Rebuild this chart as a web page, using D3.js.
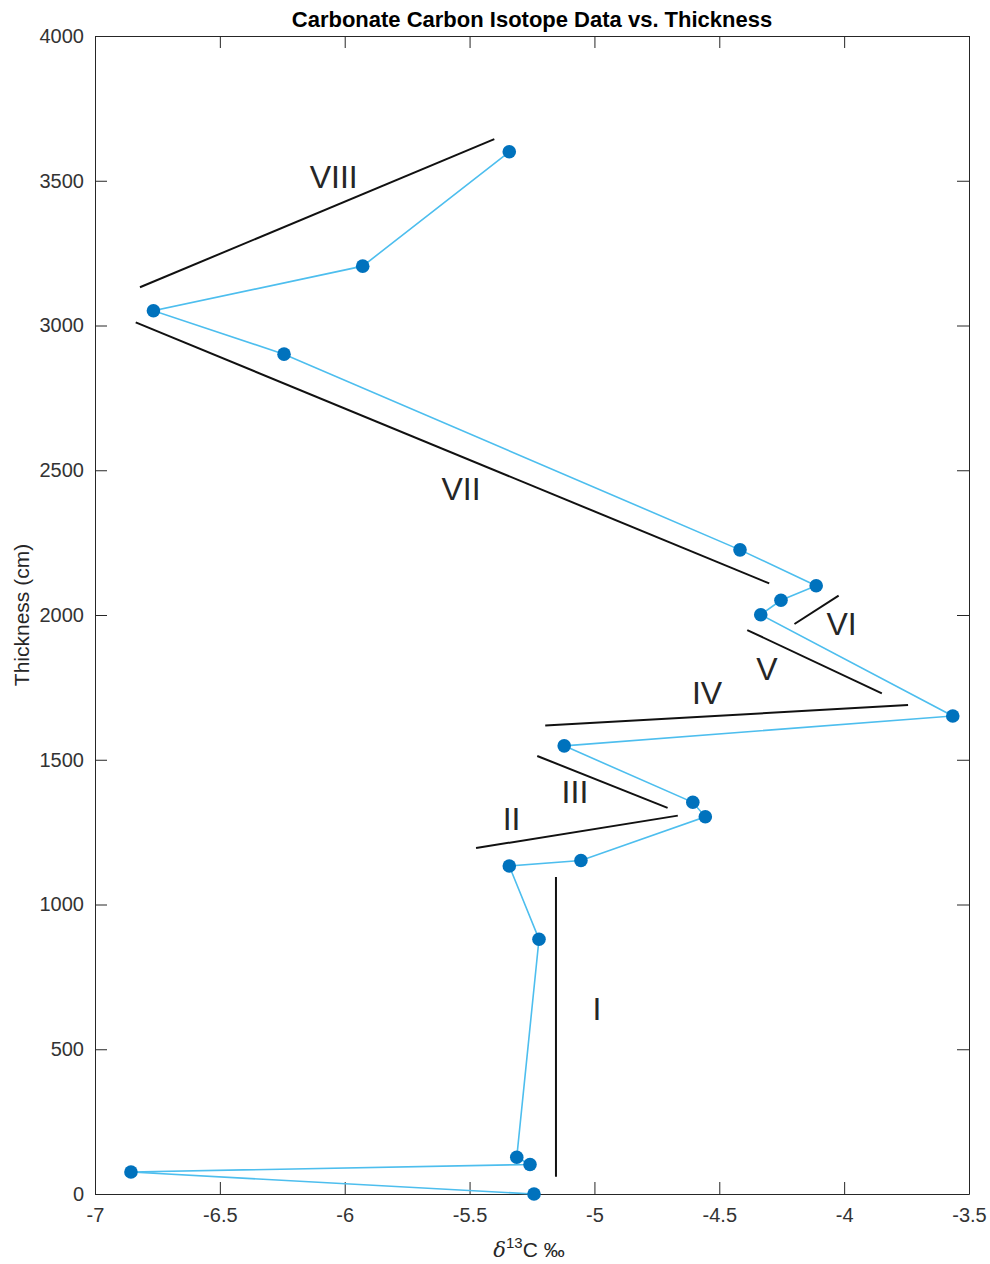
<!DOCTYPE html>
<html>
<head>
<meta charset="utf-8">
<script src="https://cdn.jsdelivr.net/npm/d3@7"></script>
<style>
  html, body { margin: 0; padding: 0; background: #fff; }
  svg { display: block; }
  text { font-family: "Liberation Sans", Arial, Helvetica, sans-serif; }
</style>
</head>
<body>
<svg id="chart" width="990" height="1264"></svg>
<script>
// ---- data ----
const d13C = [-5.242, -6.856, -5.258, -5.311, -5.222, -5.341, -5.054, -4.556, -4.606, -5.121, -3.565, -4.334, -4.253, -4.112, -4.417, -6.243, -6.766, -5.928, -5.341];
const thickness = [0, 76, 102, 127, 880, 1133, 1152, 1303, 1353, 1548, 1651, 2001, 2051, 2101, 2225, 2901, 3051, 3205, 3600];

// interpretive segment lines: [x1, y1, x2, y2]
const segNames = ["I", "II", "III", "IV", "V", "VI", "VII", "VIII"];
const segX1 = [-5.154, -5.474, -5.229, -5.197, -4.388, -4.199, -6.837, -6.820];
const segY1 = [60, 1195, 1513, 1618, 1948, 1969, 3011, 3132];
const segX2 = [-5.154, -4.666, -4.707, -3.744, -3.849, -4.022, -4.300, -5.401];
const segY2 = [1095, 1307, 1334, 1689, 1729, 2067, 2109, 3644];
// label centres
const labX = [-4.990, -5.332, -5.078, -4.549, -4.309, -4.010, -5.534, -6.044];
const labY = [639, 1294, 1389, 1732, 1812, 1969, 2435, 3513];

const xTicks = [-7, -6.5, -6, -5.5, -5, -4.5, -4, -3.5];
const yTicks = [0, 500, 1000, 1500, 2000, 2500, 3000, 3500, 4000];

// ---- layout ----
const L = 95, R = 969, T = 36, B = 1194;
const svg = d3.select("#chart");
const x = d3.scaleLinear().domain([-7, -3.5]).range([L, R]);
const y = d3.scaleLinear().domain([0, 4000]).range([B, T]);
const axisColor = "#262626";
const tickLen = 12;

// axes (MATLAB box style, ticks inward)
const fmt = d => String(d);
const gx = svg.append("g").attr("transform", `translate(0,${B})`)
  .call(d3.axisBottom(x).tickValues(xTicks).tickSizeInner(-tickLen).tickSizeOuter(0).tickPadding(tickLen + 6).tickFormat(fmt));
const gxt = svg.append("g").attr("transform", `translate(0,${T})`)
  .call(d3.axisTop(x).tickValues(xTicks).tickSizeInner(-tickLen).tickSizeOuter(0).tickFormat(""));
const gy = svg.append("g").attr("transform", `translate(${L},0)`)
  .call(d3.axisLeft(y).tickValues(yTicks).tickSizeInner(-tickLen).tickSizeOuter(0).tickPadding(tickLen - 1).tickFormat(d3.format("d")));
const gyr = svg.append("g").attr("transform", `translate(${R},0)`)
  .call(d3.axisRight(y).tickValues(yTicks).tickSizeInner(-tickLen).tickSizeOuter(0).tickFormat(""));

[gx, gxt, gy, gyr].forEach(g => {
  g.selectAll("path.domain").attr("stroke", axisColor).attr("stroke-width", 1);
  g.selectAll(".tick line").attr("stroke", axisColor).attr("stroke-width", 1);
  g.selectAll(".tick text").attr("fill", "#333").style("font-size", "20px")
    .style("font-family", '"Liberation Sans", Arial, Helvetica, sans-serif');
});
gx.selectAll(".tick text").attr("dy", "0.5em");

// data line
const line = d3.line().x((d, i) => x(d13C[i])).y((d, i) => y(thickness[i]));
svg.append("path").datum(thickness).attr("d", line)
  .attr("fill", "none").attr("stroke", "#4DBEEE").attr("stroke-width", 1.6);

// segment lines
svg.append("g").selectAll("line").data(segNames).join("line")
  .attr("x1", (d, i) => x(segX1[i])).attr("y1", (d, i) => y(segY1[i]))
  .attr("x2", (d, i) => x(segX2[i])).attr("y2", (d, i) => y(segY2[i]))
  .attr("stroke", "#111").attr("stroke-width", 2);

// markers
svg.append("g").selectAll("circle").data(thickness).join("circle")
  .attr("cx", (d, i) => x(d13C[i])).attr("cy", d => y(d))
  .attr("r", 6.8).attr("fill", "#0072BD");

// labels
svg.append("g").selectAll("text").data(segNames).join("text")
  .attr("x", (d, i) => x(labX[i])).attr("y", (d, i) => y(labY[i]))
  .attr("text-anchor", "middle").attr("dominant-baseline", "central")
  .attr("fill", "#262626").style("font-size", "32px").text(d => d);

// title
svg.append("text").attr("x", (L + R) / 2).attr("y", 27)
  .attr("text-anchor", "middle").attr("fill", "#000")
  .style("font-size", "22px").style("font-weight", "bold")
  .text("Carbonate Carbon Isotope Data vs. Thickness");

// y label
svg.append("text").attr("transform", `translate(29,${(T + B) / 2}) rotate(-90)`)
  .attr("text-anchor", "middle").attr("fill", axisColor).style("font-size", "21px")
  .text("Thickness (cm)");

// x label: δ^13 C ‰
const xl = svg.append("text").attr("x", (L + R) / 2 - 3).attr("y", 1257)
  .attr("text-anchor", "middle").attr("fill", axisColor).style("font-size", "21px");
xl.append("tspan").style("font-family", '"DejaVu Serif", "Liberation Serif", serif').style("font-style", "italic").text("δ");
xl.append("tspan").attr("dy", -9).style("font-size", "15px").text("13");
xl.append("tspan").attr("dy", 9).text("C ‰");
</script>
</body>
</html>
